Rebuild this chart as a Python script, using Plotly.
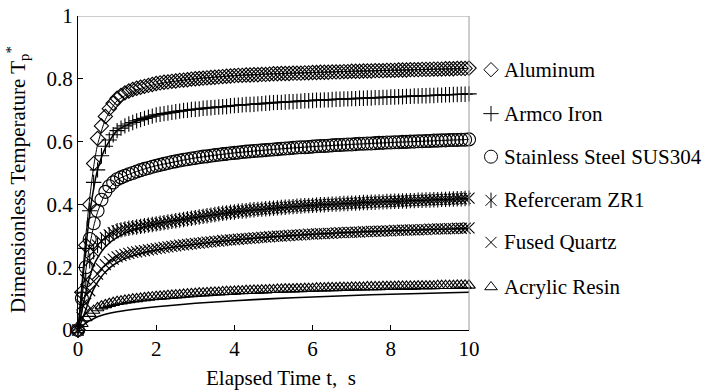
import plotly.graph_objects as go

# sample times of the measured points (0 to 10 s, every 0.1 s)
t = [round(0.1 * i, 1) for i in range(101)]

aluminum = [0, .12, .27, .40, .53, .61, .65, .68, .705, .722, .738,
            .747, .755, .761, .766, .770, .773, .776, .779, .782, .785,
            .787, .789, .790, .792, .793, .795, .796, .797, .799, .800,
            .801, .802, .803, .804, .805, .806, .807, .808, .809, .810,
            .811, .811, .812, .812, .813, .813, .814, .814, .815, .816,
            .816, .817, .817, .817, .818, .818, .818, .819, .819, .820,
            .820, .821, .821, .821, .822, .822, .822, .823, .823, .824,
            .824, .824, .825, .825, .825, .826, .826, .826, .827, .827,
            .827, .828, .828, .828, .829, .829, .829, .830, .830, .830,
            .831, .831, .831, .832, .832, .832, .833, .833, .833, .834]

armco = [0, .12, .26, .38, .47, .51, .555, .585, .605, .622, .635,
         .643, .650, .656, .661, .666, .670, .674, .678, .681, .685,
         .687, .689, .691, .693, .695, .697, .699, .700, .702, .703,
         .704, .706, .707, .708, .709, .710, .711, .712, .714, .715,
         .716, .717, .718, .718, .719, .720, .721, .722, .723, .724,
         .725, .725, .726, .727, .727, .728, .729, .730, .730, .731,
         .732, .732, .733, .733, .734, .735, .735, .736, .736, .737,
         .737, .738, .738, .739, .739, .740, .740, .741, .741, .742,
         .742, .743, .743, .744, .744, .745, .745, .746, .746, .747,
         .747, .748, .748, .749, .749, .750, .750, .751, .751, .752]

stainless = [0, .10, .20, .29, .34, .38, .415, .44, .458, .47, .48,
             .486, .491, .496, .500, .505, .509, .513, .516, .520, .523,
             .526, .529, .532, .535, .537, .540, .542, .544, .546, .548,
             .550, .552, .553, .555, .557, .558, .560, .561, .563, .564,
             .565, .567, .568, .569, .570, .571, .572, .573, .574, .575,
             .576, .577, .578, .579, .580, .581, .582, .582, .583, .584,
             .585, .586, .586, .587, .588, .589, .589, .590, .591, .591,
             .592, .593, .593, .594, .594, .595, .596, .596, .597, .597,
             .598, .598, .599, .599, .600, .600, .601, .601, .602, .602,
             .603, .603, .604, .604, .605, .605, .605, .606, .606, .607]

zr1 = [0, .08, .16, .22, .25, .27, .283, .294, .303, .310, .316,
       .319, .322, .324, .326, .328, .330, .332, .334, .336, .338,
       .340, .342, .344, .346, .348, .350, .352, .354, .356, .358,
       .360, .362, .364, .366, .368, .370, .372, .373, .375, .376,
       .378, .379, .380, .382, .383, .384, .385, .386, .387, .388,
       .389, .390, .391, .392, .393, .394, .395, .396, .396, .397,
       .398, .399, .399, .400, .401, .401, .402, .403, .403, .404,
       .404, .405, .406, .406, .407, .407, .408, .408, .409, .409,
       .410, .410, .411, .411, .412, .412, .413, .413, .414, .414,
       .415, .415, .416, .416, .417, .417, .418, .418, .419, .420]

quartz = [0, .04, .085, .125, .155, .178, .195, .208, .218, .226, .233,
          .237, .241, .244, .247, .249, .251, .253, .255, .257, .259,
          .261, .263, .265, .266, .268, .270, .271, .273, .274, .276,
          .277, .278, .280, .281, .282, .283, .285, .286, .287, .288,
          .289, .290, .291, .292, .293, .294, .295, .296, .297, .298,
          .299, .299, .300, .301, .302, .302, .303, .304, .305, .305,
          .306, .307, .307, .308, .308, .309, .310, .310, .311, .311,
          .312, .312, .313, .313, .314, .314, .315, .315, .316, .316,
          .317, .317, .318, .318, .319, .319, .319, .320, .320, .321,
          .321, .322, .322, .322, .323, .323, .324, .324, .324, .325]

acrylic = [0, .02, .038, .052, .062, .07, .076, .08, .084, .087, .09,
           .092, .094, .096, .098, .099, .101, .102, .104, .105, .106,
           .107, .108, .109, .110, .111, .112, .113, .114, .115, .116,
           .117, .117, .118, .119, .120, .120, .121, .122, .122, .123,
           .124, .124, .125, .125, .126, .126, .127, .127, .128, .128,
           .129, .129, .130, .130, .130, .131, .131, .132, .132, .132,
           .133, .133, .133, .134, .134, .134, .135, .135, .135, .136,
           .136, .136, .136, .137, .137, .137, .137, .138, .138, .138,
           .138, .139, .139, .139, .139, .139, .140, .140, .140, .140,
           .140, .141, .141, .141, .141, .141, .142, .142, .142, .142]

# fitted (calculated) curves
fit_t = [0, 0.1, 0.2, 0.3, 0.4, 0.5, 0.7, 1, 1.5, 2, 3, 4, 5, 6, 7, 8, 9, 10, 10.2]
fit_aluminum = [0, .15, .30, .42, .52, .59, .67, .73, .765, .783, .80, .81, .816, .82, .824, .827, .83, .833, .834]
fit_armco = [0, .13, .26, .37, .45, .51, .58, .635, .666, .685, .703, .715, .724, .731, .737, .742, .747, .752, .753]
fit_stainless = [0, .10, .19, .27, .33, .375, .435, .478, .505, .523, .548, .564, .575, .584, .591, .597, .602, .607, .608]
fit_zr1 = [0, .06, .12, .17, .205, .23, .265, .295, .322, .338, .358, .376, .388, .397, .404, .409, .414, .419, .42]
fit_quartz = [0, .03, .065, .10, .13, .152, .185, .215, .24, .255, .273, .287, .297, .305, .311, .316, .32, .324, .325]
fit_acrylic = [0, .012, .022, .03, .036, .042, .05, .058, .067, .074, .085, .093, .10, .105, .11, .114, .117, .12, .12]

names = ["Aluminum", "Armco Iron", "Stainless Steel SUS304", "Referceram ZR1", "Fused Quartz", "Acrylic Resin"]
label_y = [0.829, 0.689, 0.552, 0.413, 0.279, 0.137]

series = [aluminum, armco, stainless, zr1, quartz, acrylic]
fits = [fit_aluminum, fit_armco, fit_stainless, fit_zr1, fit_quartz, fit_acrylic]
fit_widths = [1.0, 1.5, 1.0, 1.5, 1.5, 1.6]
symbols = [["diamond-open"], ["cross-thin-open"], ["circle-open"],
           ["x-thin-open", "line-ns-open"], ["x-thin-open"], ["triangle-up-open"]]
sizes = [11, 11, 13, 11, 11, 11]

FONT = "Liberation Serif"
W, H = 706, 390
L, T_, B = 78, 16, 60
PLOT_R = 469  # right edge of the data frame in pixels
dom = (PLOT_R - L) / (W - L)

fig = go.Figure()

for vals, syms, sz in zip(series, symbols, sizes):
    for s in syms:
        fig.add_trace(go.Scatter(
            x=t, y=vals, mode="markers", cliponaxis=False, showlegend=False,
            marker=dict(symbol=s, size=sz, color="black",
                        line=dict(color="black", width=1.1))))

for f, lw in zip(fits, fit_widths):
    fig.add_trace(go.Scatter(
        x=fit_t, y=f, mode="lines", cliponaxis=False, showlegend=False,
        line=dict(color="black", width=lw, shape="spline", smoothing=0.6)))

# labels next to the curves (pixel-based axis x2 spanning the whole width)
for nm, ly, syms, sz in zip(names, label_y, symbols, sizes):
    for s in syms:
        fig.add_trace(go.Scatter(
            x=[491], y=[ly], xaxis="x2", yaxis="y", mode="markers", cliponaxis=False,
            showlegend=False,
            marker=dict(symbol=s, size=sz, color="black",
                        line=dict(color="black", width=1))))
    fig.add_annotation(x=502, y=ly, xref="x2", yref="y", text=nm, showarrow=False,
                       xanchor="left", yanchor="middle",
                       font=dict(family=FONT, size=21, color="black"))

fig.add_annotation(x=(281 - L) / (W - L), y=-0.153, xref="paper", yref="paper",
                   text="Elapsed Time t,&nbsp; s", showarrow=False,
                   xanchor="center", yanchor="middle",
                   font=dict(family=FONT, size=21, color="black"))
fig.add_annotation(x=(18 - L) / (W - L), y=0.478, xref="paper", yref="paper",
                   text="Dimensionless Temperature T<sub>p</sub><sup>*</sup>",
                   showarrow=False, textangle=-90, xanchor="center", yanchor="middle",
                   font=dict(family=FONT, size=21, color="black"))

# gray top/right frame
fig.add_shape(type="line", xref="x2", yref="y", x0=L, x1=PLOT_R, y0=1, y1=1,
              line=dict(color="#9a9a9a", width=1))
fig.add_shape(type="line", xref="x2", yref="y", x0=PLOT_R, x1=PLOT_R, y0=0, y1=1,
              line=dict(color="#9a9a9a", width=1))

fig.update_layout(
    width=W, height=H, margin=dict(l=L, r=0, t=T_, b=B, autoexpand=False),
    paper_bgcolor="white", plot_bgcolor="rgba(0,0,0,0)",
    font=dict(family=FONT, size=21, color="black"),
    xaxis=dict(domain=[0, dom], range=[0, 10], tickvals=[0, 2, 4, 6, 8, 10],
               ticks="inside", ticklen=5,
               tickcolor="black", showline=True, linecolor="black", linewidth=1,
               showgrid=False, zeroline=False, tickfont=dict(family=FONT, size=21)),
    xaxis2=dict(domain=[0, 1], range=[L, W], anchor="y", visible=False,
                showgrid=False, zeroline=False, fixedrange=True),
    yaxis=dict(range=[0, 1], tickvals=[0, 0.2, 0.4, 0.6, 0.8, 1],
               ticktext=["0", "0.2", "0.4", "0.6", "0.8", "1"], ticks="inside", ticklen=5,
               tickcolor="black", showline=True, linecolor="black", linewidth=1,
               showgrid=False, zeroline=False, tickfont=dict(family=FONT, size=21)),
)

fig.write_html("out.html")
